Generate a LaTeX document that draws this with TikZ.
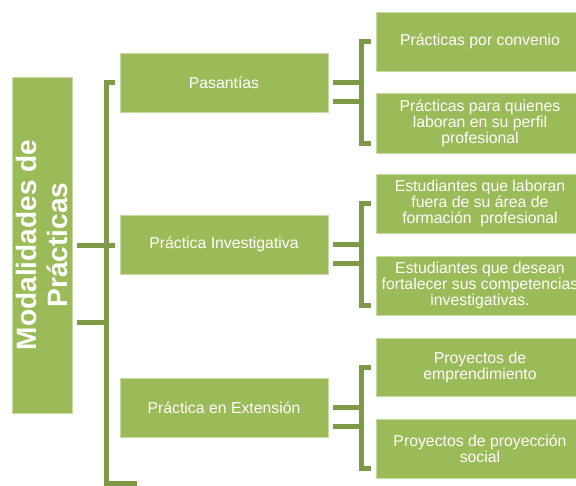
\documentclass[tikz,border=0pt]{standalone}
\usepackage{fontspec}
\setmainfont{Liberation Sans}
\usepackage{xcolor}
\usepackage{tikz}
\definecolor{boxgreen}{HTML}{9BBB59}
\definecolor{linkgreen}{HTML}{7E9A48}

\begin{document}
\begin{tikzpicture}[x=1pt,y=-1pt,
	box/.style={fill=boxgreen,draw=boxgreen!55!white,line width=0.6pt,text=white,
		align=center,inner sep=0pt,minimum width=208pt,minimum height=59pt,
		font=\fontsize{15.8}{16}\selectfont},
	link/.style={draw=linkgreen,line width=5pt}]
	\useasboundingbox (0,0) rectangle (576,485);
	%
	\node[box,rotate=90,minimum width=336pt,minimum height=60pt,
		font=\bfseries\fontsize{28}{31}\selectfont] (M) at (42,245) {Modalidades de\\Prácticas};
	% second level
	\node[box] (P) at (224,82.5) {Pasantías};
	\node[box] (I) at (224,244.5) {Práctica Investigativa};
	\node[box] (E) at (224,407.5) {Práctica en Extensión};
	% third level
	\node[box] (P1) at (480,41.5) {Prácticas por convenio};
	\node[box,minimum height=60pt] (P2) at (480,123) {Prácticas para quienes\\laboran en su perfil\\profesional};
	\node[box] (I1) at (480,203.5) {Estudiantes que laboran\\fuera de su área de\\formación\ \ profesional};
	\node[box] (I2) at (480,285.5) {Estudiantes que desean\\fortalecer sus competencias\\investigativas.};
	\node[box,minimum height=58pt] (E1) at (480,367) {Proyectos de\\emprendimiento};
	\node[box] (E2) at (480,448.5) {Proyectos de proyección\\social};
	%
	% main bracket
	\coordinate (Mb) at (106,483);
	\draw[link] ([xshift=-5pt]P.west) -| (Mb) -- ++(31,0);
	\draw[link] ([xshift=5pt]M.south) -- ([xshift=-5pt]M.south -| I.west);
	\draw[link] ([xshift=5pt,yshift=-77pt]M.south) -- ++(29,0);
	% small brackets
	\foreach \p/\a/\b in {P/P1/P2, I/I1/I2, E/E1/E2}{
		\draw[link] ([xshift=5pt]\p.east) -- ++(29,0);
		\draw[link] ([xshift=5pt,yshift=-19pt]\p.east) -- ++(29,0);
		\draw[link] ([xshift=-5pt]\a.west) -| ([xshift=-14pt,yshift=10pt]\b.south west)
			-- ([xshift=-5pt,yshift=10pt]\b.south west);
	}
\end{tikzpicture}
\end{document}
